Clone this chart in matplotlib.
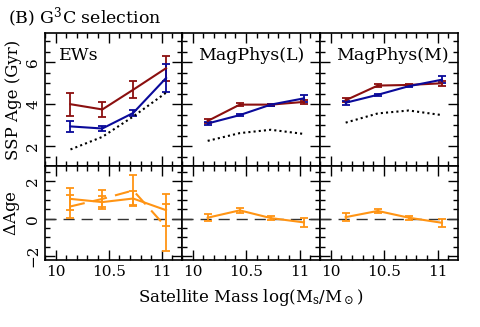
import matplotlib
matplotlib.use("Agg")
import matplotlib.pyplot as plt
from matplotlib.ticker import MultipleLocator

plt.rcParams['font.family'] = ['DejaVu Serif']
plt.rcParams['mathtext.fontset'] = 'dejavuserif'

mass = [10.14, 10.44, 10.73, 11.04]
panels = ["EWs", "MagPhys(L)", "MagPhys(M)"]

# upper: red series, blue series, dotted reference
red_age = [[4.0, 3.75, 4.69, 5.72], [3.2, 3.98, 3.98, 4.11], [4.19, 4.89, 4.92, 5.0]]
red_err = [[0.55, 0.35, 0.4, 0.6], [0.1, 0.08, 0.05, 0.1], [0.1, 0.08, 0.06, 0.12]]
blue_age = [[2.94, 2.84, 3.58, 5.25], [3.08, 3.48, 3.98, 4.28], [4.07, 4.45, 4.86, 5.17]]
blue_err = [[0.28, 0.1, 0.15, 0.65], [0.08, 0.05, 0.05, 0.18], [0.1, 0.05, 0.06, 0.18]]
dot_age = [[1.84, 2.44, 3.41, 4.55], [2.25, 2.62, 2.78, 2.58], [3.12, 3.56, 3.7, 3.48]]

# lower: delta age
d_solid = [[1.05, 0.88, 1.07, 0.45], [0.05, 0.44, 0.03, -0.2], [0.08, 0.41, 0.05, -0.22]]
d_solid_err = [[0.6, 0.35, 0.4, 0.85], [0.2, 0.12, 0.1, 0.22], [0.2, 0.1, 0.1, 0.2]]
d_dash = [0.65, 1.05, 1.5, -0.45]
d_dash_err = [0.62, 0.45, 0.8, 1.25]

RED = "#8b0f0f"
BLUE = "#0a0a9a"
ORANGE = "#ff9414"

fig = plt.figure(figsize=(4.8, 3.27), dpi=100)
W, H = 480, 327
lefts = [45, 182, 320]
widths = [137, 138, 138]
top_u, mid, bot = 33, 166, 260

def style(ax, xlab, ylab, ymaj):
    ax.set_xlim(9.9, 11.19)
    ax.xaxis.set_major_locator(MultipleLocator(0.5))
    ax.xaxis.set_minor_locator(MultipleLocator(0.1))
    ax.yaxis.set_major_locator(MultipleLocator(ymaj))
    ax.yaxis.set_minor_locator(MultipleLocator(0.5))
    ax.tick_params(which='both', direction='in', top=True, right=True, width=1.0, labelsize=11)
    ax.tick_params(which='major', length=7)
    ax.tick_params(which='minor', length=3.5)
    for s in ax.spines.values():
        s.set_linewidth(1.2)
    if not xlab:
        ax.set_xticklabels([])
    else:
        ax.set_xticks([10, 10.5, 11])
        ax.set_xticklabels(["10", "10.5", "11"])
    if not ylab:
        ax.set_yticklabels([])
    else:
        for t in ax.get_yticklabels():
            t.set_rotation(90)
            t.set_va('center')

for i in range(3):
    l = lefts[i] / W
    w = widths[i] / W
    axu = fig.add_axes([l, 1 - mid / H, w, (mid - top_u) / H])
    axl = fig.add_axes([l, 1 - bot / H, w, (bot - mid) / H])

    axu.errorbar(mass, red_age[i], yerr=red_err[i], color=RED, lw=1.5, capsize=3, capthick=1.3, elinewidth=1.3)
    axu.errorbar(mass, blue_age[i], yerr=blue_err[i], color=BLUE, lw=1.5, capsize=3, capthick=1.3, elinewidth=1.3)
    axu.plot(mass, dot_age[i], color='black', lw=1.5, ls=(0, (1, 1.5)))
    axu.set_ylim(1.05, 7.4)
    axu.text(0.1 if i == 0 else 0.12, 0.83, panels[i], transform=axu.transAxes, fontsize=12.5, va='center', ha='left')
    style(axu, False, i == 0, 2)
    for t in axu.get_yticklabels():
        t.set_rotation(90)
        t.set_va('center')

    axl.axhline(0, color='#333333', lw=1.0, ls=(0, (8, 5)))
    axl.errorbar(mass, d_solid[i], yerr=d_solid_err[i], color=ORANGE, lw=1.5, capsize=3, capthick=1.3, elinewidth=1.3)
    if i == 0:
        axl.errorbar(mass, d_dash, yerr=d_dash_err, color=ORANGE, lw=1.5, ls=(0, (7, 4)), capsize=3, capthick=1.3, elinewidth=1.3)
    axl.set_ylim(-2.2, 2.8)
    style(axl, True, i == 0, 2)
    if i == 0:
        axu.set_ylabel("SSP Age (Gyr)", fontsize=12, labelpad=3)
        axl.set_ylabel(r"$\Delta$Age", fontsize=12, labelpad=3)
        axl.set_yticks([-2, 0, 2])
        axl.set_yticklabels(["\u22122", "0", "2"], rotation=90, va='center')
        axu.set_yticks([2, 4, 6])
        axu.set_yticklabels(["2", "4", "6"], rotation=90, va='center')

fig.text(8 / W, 1 - 18 / H, r"(B) G$^3$C selection", fontsize=12.5, ha='left', va='center')
fig.text(251 / W, 1 - 298 / H, r"Satellite Mass log(M$_{\rm s}$/M$_\odot$)", fontsize=12, ha='center', va='center')

fig.savefig("out.png", dpi=100)
